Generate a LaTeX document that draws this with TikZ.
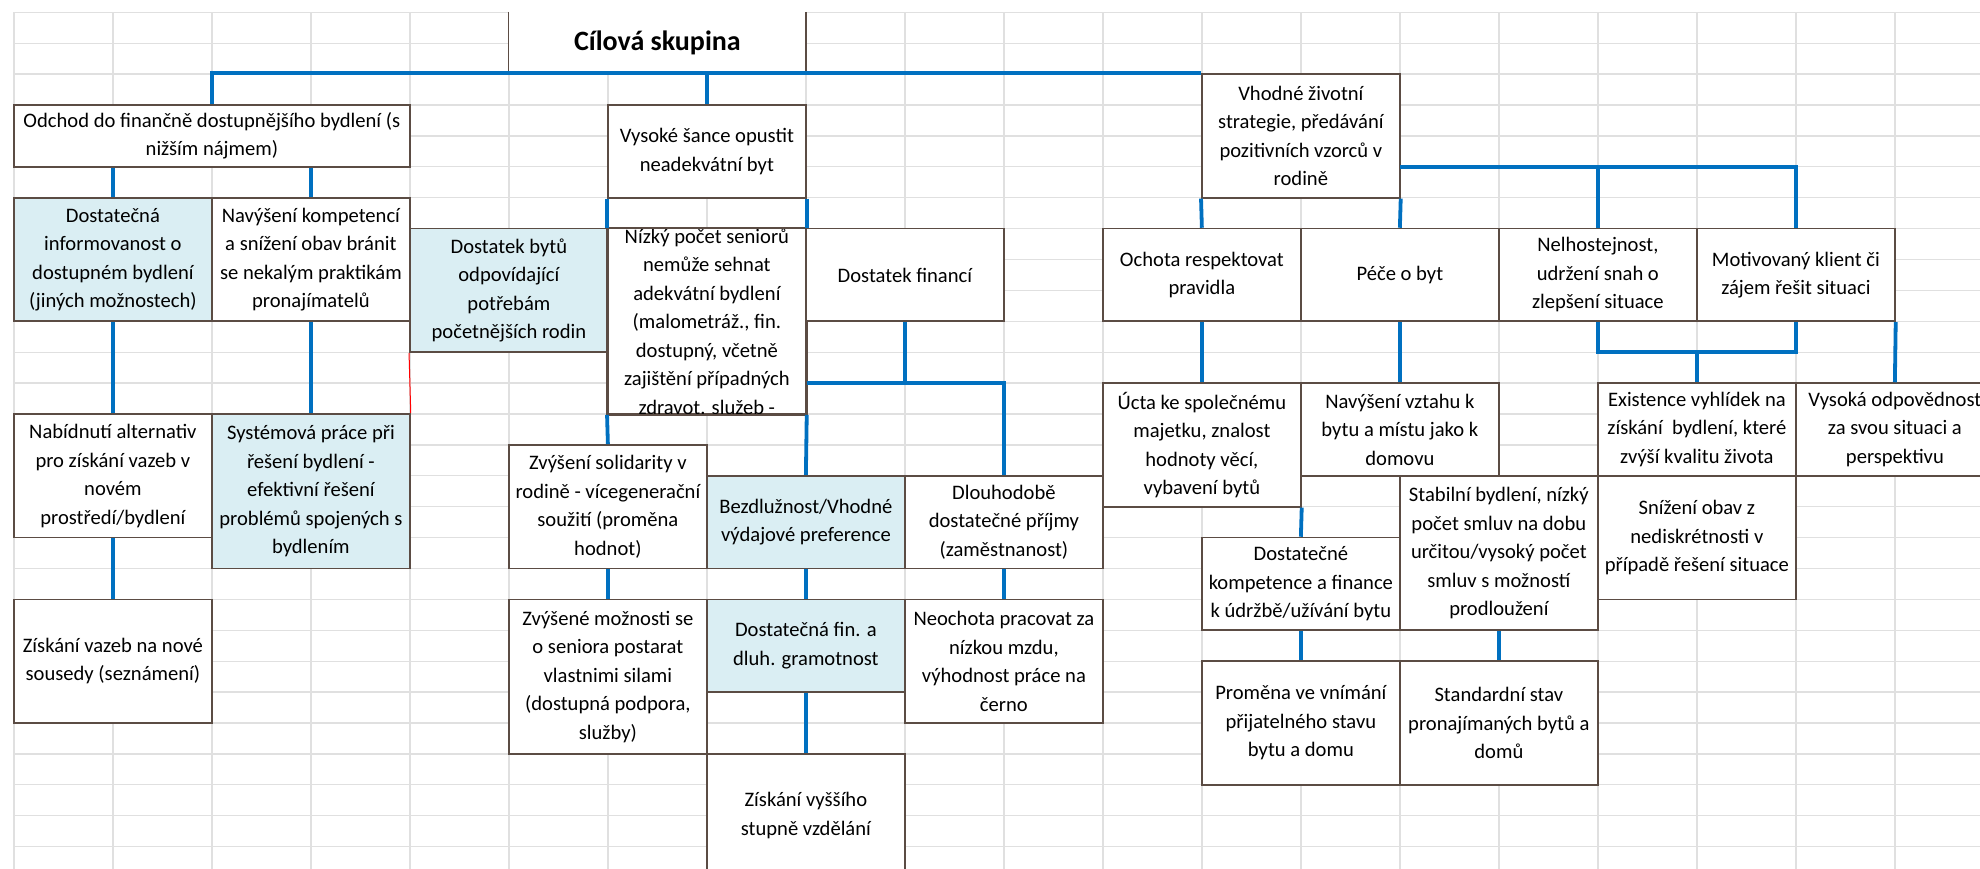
\documentclass[tikz,border=0pt]{standalone}
\usepackage{fontspec}
\setmainfont{Carlito}
\definecolor{bordc}{HTML}{5B4C44}
\definecolor{fillb}{HTML}{DAEEF3}
\definecolor{connc}{HTML}{0070C0}
\definecolor{gridc}{HTML}{E0E0E0}
\tikzset{
  txt/.style={inner sep=0pt, align=center, font=\fontsize{10.3}{14.25}\selectfont, text=black},
  box/.style={txt, draw=bordc, line width=0.85pt, fill=white},
  bbox/.style={box, fill=fillb},
  titlebox/.style={txt, fill=white, font=\fontsize{14}{17}\selectfont\bfseries},
  conn/.style={draw=connc, line width=1.9pt},
  gridline/.style={draw=gridc, line width=0.65pt},
}
\newcommand\xcell[7][box]{%
  \pgfmathsetmacro\cellw{(#5-#3)*49.5}%
  \pgfmathsetmacro\cellh{(#6-#4)*15.45}%
  \node[#1, minimum width=\cellw pt, minimum height=\cellh pt] (#2) at ({(#3+#5)/2},{(#4+#6)/2}) {#7};}
\begin{document}
\begin{tikzpicture}[x=49.5pt,y=-15.45pt]
\useasboundingbox (-0.1404,-0.398) rectangle (19.86,27.725);
\clip (-0.1404,-0.398) rectangle (19.86,27.725);
\fill[white] (-0.1404,-0.398) rectangle (19.86,27.725);
% spreadsheet grid
\foreach \i in {0,...,20} \draw[gridline] (\i,0) -- (\i,28);
\foreach \j in {0,...,28} \draw[gridline] (0,\j) -- (20,\j);
% title
\xcell[titlebox]{title}{5}{0}{8}{2}{Cílová skupina}
\draw[bordc, line width=0.85pt] (title.north west) -- (title.south west) (title.north east) -- (title.south east);
% boxes
\xcell{odchod}{0}{3}{4}{5}{Odchod do finančně dostupnějšího bydlení (s\\nižším nájmem)}
\xcell{vysoke}{6}{3}{8}{6}{Vysoké šance opustit\\neadekvátní byt}
\xcell{vhodne}{12}{2}{14}{6}{Vhodné životní\\strategie, předávání\\pozitivních vzorců v\\rodině}
\xcell[bbox]{dostinf}{0}{6}{2}{10}{Dostatečná\\informovanost o\\dostupném bydlení\\(jiných možnostech)}
\xcell{navkomp}{2}{6}{4}{10}{Navýšení kompetencí\\a snížení obav bránit\\se nekalým praktikám\\pronajímatelů}
\xcell[bbox]{dostbytu}{4}{7}{6}{11}{Dostatek bytů\\odpovídající\\potřebám\\početnějších rodin}
\xcell{nizky}{6}{7}{8}{13}{}
\begin{scope}
\clip (6,7) rectangle (8,13);
\node[txt] (nizkytext) at (nizky.center) {Nízký počet seniorů\\nemůže sehnat\\adekvátní bydlení\\(malometráž., fin.\\dostupný, včetně\\zajištění případných\\zdravot. služeb -};
\end{scope}
\draw[bordc, line width=0.85pt] (nizky.north west) rectangle (nizky.south east);
\xcell{dostfin}{8}{7}{10}{10}{Dostatek financí}
\xcell{ochota}{11}{7}{13}{10}{Ochota respektovat\\pravidla}
\xcell{pece}{13}{7}{15}{10}{Péče o byt}
\xcell{nelho}{15}{7}{17}{10}{Nelhostejnost,\\udržení snah o\\zlepšení situace}
\xcell{motiv}{17}{7}{19}{10}{Motivovaný klient či\\zájem řešit situaci}
\xcell{ucta}{11}{12}{13}{16}{Úcta ke společnému\\majetku, znalost\\hodnoty věcí,\\vybavení bytů}
\xcell{navvzt}{13}{12}{15}{15}{Navýšení vztahu k\\bytu a místu jako k\\domovu}
\xcell{exist}{16}{12}{18}{15}{Existence vyhlídek na\\získání~ bydlení, které\\zvýší kvalitu života}
\xcell{vysodp}{18}{12}{20}{15}{Vysoká odpovědnost\\za svou situaci a\\perspektivu}
\xcell{nabid}{0}{13}{2}{17}{Nabídnutí alternativ\\pro získání vazeb v\\novém\\prostředí/bydlení}
\xcell[bbox]{system}{2}{13}{4}{18}{Systémová práce při\\řešení bydlení -\\efektivní řešení\\problémů spojených s\\bydlením}
\xcell{zvysol}{5}{14}{7}{18}{Zvýšení solidarity v\\rodině - vícegenerační\\soužití (proměna\\hodnot)}
\xcell[bbox]{bezdl}{7}{15}{9}{18}{Bezdlužnost/Vhodné\\výdajové preference}
\xcell{dlouh}{9}{15}{11}{18}{Dlouhodobě\\dostatečné příjmy\\(zaměstnanost)}
\xcell{stabil}{14}{15}{16}{20}{Stabilní bydlení, nízký\\počet smluv na dobu\\určitou/vysoký počet\\smluv s možností\\prodloužení}
\xcell{snizeni}{16}{15}{18}{19}{Snížení obav z\\nediskrétnosti v\\případě řešení situace}
\xcell{dostkomp}{12}{17}{14}{20}{Dostatečné\\kompetence a finance\\k údržbě/užívání bytu}
\xcell{ziskvaz}{0}{19}{2}{23}{Získání vazeb na nové\\sousedy (seznámení)}
\xcell{zvymoz}{5}{19}{7}{24}{Zvýšené možnosti se\\o seniora postarat\\vlastnimi silami\\(dostupná podpora,\\služby)}
\xcell[bbox]{dostfg}{7}{19}{9}{22}{Dostatečná fin. a\\dluh. gramotnost}
\xcell{neoch}{9}{19}{11}{23}{Neochota pracovat za\\nízkou mzdu,\\výhodnost práce na\\černo}
\xcell{promena}{12}{21}{14}{25}{Proměna ve vnímání\\přijatelného stavu\\bytu a domu}
\xcell{standard}{14}{21}{16}{25}{Standardní stav\\pronajímaných bytů a\\domů}
\xcell{ziskvys}{7}{24}{9}{28}{Získání vyššího\\stupně vzdělání}
% connectors
\draw[conn] (odchod.north) |- (vhodne.north west);
\draw[conn] (vysoke.north) -- (vysoke.north |- title.south);
\draw[conn] (dostinf.north) -- (dostinf.north |- odchod.south);
\draw[conn] (navkomp.north) -- (navkomp.north |- odchod.south);
\draw[conn] (dostinf.south) -- (nabid.north);
\draw[conn] (navkomp.south) -- (system.north);
\draw[conn] (nabid.south) -- (ziskvaz.north);
\draw[conn] (vysoke.south west) -- (nizky.north west);
\draw[conn] (vysoke.south east) -- (nizky.north east);
\draw[conn] (nizky.south west) -- (zvysol.north);
\draw[conn] (nizky.south east) -- (bezdl.north);
\coordinate (finbus) at (9,12);
\draw[conn] (dostfin.south) -- (finbus);
\draw[conn] (nizky.east |- finbus) -- (finbus) -| (dlouh.north);
\draw[conn] (zvysol.south) -- (zvymoz.north);
\draw[conn] (bezdl.south) -- (dostfg.north);
\draw[conn] (dlouh.south) -- (neoch.north);
\draw[conn] (dostfg.south) -- (ziskvys.north);
\draw[conn] (vhodne.south west) -- (ochota.north);
\draw[conn] (vhodne.south east) -- (pece.north);
\coordinate (vbus) at (14,5);
\draw[conn] (vbus) -| (motiv.north);
\draw[conn] (nelho.north) -- (nelho.north |- vbus);
\draw[conn] (ochota.south) -- (ucta.north);
\draw[conn] (pece.south) -- (navvzt.north);
\coordinate (ebus) at (17,11);
\draw[conn] (nelho.south) |- (ebus) -| (motiv.south);
\draw[conn] (ebus) -- (exist.north);
\draw[conn] (motiv.south east) -- (vysodp.north);
\draw[conn] (ucta.south east) -- (dostkomp.north);
\draw[conn] (dostkomp.south) -- (promena.north);
\draw[conn] (stabil.south) -- (standard.north);
\draw[red, line width=0.5pt] (dostbytu.south west) -- (system.north east);
\end{tikzpicture}
\end{document}
